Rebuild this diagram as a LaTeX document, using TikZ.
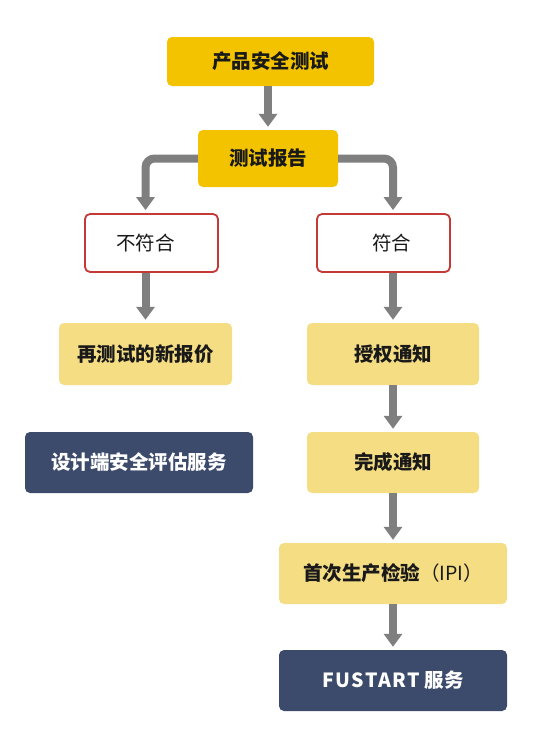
\documentclass[tikz,border=0pt]{standalone}
\usepackage{fontspec}
\setmainfont{Noto Sans CJK SC}
\usetikzlibrary{arrows.meta}

\definecolor{gold}{HTML}{F3C300}
\definecolor{sand}{HTML}{F5DD84}
\definecolor{navy}{HTML}{3C4B6B}
\definecolor{brick}{HTML}{C43A36}
\definecolor{steel}{HTML}{7F7F7F}

\tikzset{
  box/.style={rounded corners=5pt, align=center, font=\fontsize{19.5}{22}\selectfont\bfseries, text=black!90},
  goldbox/.style={box, fill=gold},
  sandbox/.style={box, fill=sand, minimum width=172pt, minimum height=62pt},
  navybox/.style={box, fill=navy, text=white, minimum width=228pt, minimum height=61pt},
  checkbox/.style={box, draw=brick, line width=1.8pt, fill=white, minimum width=133pt, minimum height=58pt, font=\fontsize{19.5}{22}\selectfont},
  flow/.style={draw=steel, line width=8pt, rounded corners=9pt, shorten >=3pt, -{Triangle[width=18pt,length=13pt]}}
}

\begin{document}
\begin{tikzpicture}[x=1pt, y=-1pt]
\useasboundingbox[fill=white] (0,0) rectangle (550,744);

\node[goldbox, minimum width=207pt, minimum height=49pt] (test) at (270.5,61.5) {产品安全测试};
\node[goldbox, minimum width=140pt, minimum height=57pt] (report) at (268,158.5) {测试报告};
\node[checkbox] (fail) at (151.5,243) {\hspace*{-12pt}不符合};
\node[checkbox] (pass) at (383.5,243) {\hspace*{16pt}符合};
\node[sandbox, minimum width=173pt] (requote) at (145.5,354) {再测试的新报价};
\node[sandbox] (auth) at (393,354) {授权通知};
\node[navybox] (design) at (139,462.5) {设计端安全评估服务};
\node[sandbox, minimum height=61pt] (done) at (393,462.5) {完成通知};
\node[sandbox, minimum width=228pt, minimum height=61pt] (ipi) at (393,573.5) {首次生产检验{\mdseries（IPI）}};
\node[navybox] (fustart) at (393,680.5) {{\addfontfeature{LetterSpace=8}FUSTART} 服务};

\draw[flow] (test.south -| report) -- (report.north);
\draw[flow] (report.west) -| (fail.north -| requote);
\draw[flow] (report.east) -| (pass.north -| auth);
\draw[flow] (fail.south -| requote) -- (requote.north);
\draw[flow] (pass.south -| auth) -- (auth.north);
\draw[flow] (auth) ++(0,31) -- (done.north);
\draw[flow] (done.south) -- (ipi.north);
\draw[flow] (ipi.south) -- (fustart.north);
\end{tikzpicture}
\end{document}
